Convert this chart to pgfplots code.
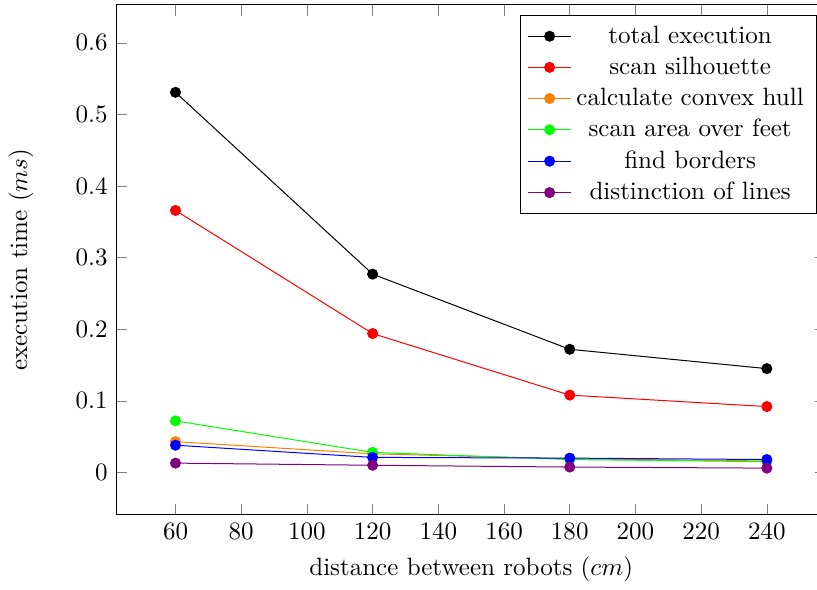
\documentclass[border=0pt]{standalone}
\usepackage{pgfplots}
\pgfplotsset{compat=1.18}
\begin{document}
\begin{tikzpicture}
\begin{axis}[
  width=283.6pt, height=203.6pt, scale only axis,
  xmin=42, xmax=258, ymin=-0.0587, ymax=0.653,
  xtick={60,80,...,240},
  ytick={0,0.1,...,0.6},
  yticklabel style={/pgf/number format/fixed},
  xlabel={distance between robots ($cm$)},
  ylabel={execution time ($ms$)},
  ylabel style={yshift=10pt},
  legend style={at={(0.987,0.98)}, anchor=north east},
  legend cell align=center,
  every axis plot/.append style={mark=*, mark size=2pt},
]
\addplot[black, mark options={fill=black}] coordinates {(60,0.531) (120,0.277) (180,0.172) (240,0.145)};
\addlegendentry{total execution}
\addplot[red, mark options={fill=red}] coordinates {(60,0.366) (120,0.194) (180,0.108) (240,0.092)};
\addlegendentry{scan silhouette}
\addplot[orange, mark options={fill=orange}] coordinates {(60,0.043) (120,0.026) (180,0.019) (240,0.016)};
\addlegendentry{calculate convex hull}
\addplot[green, mark options={fill=green}] coordinates {(60,0.072) (120,0.028) (180,0.018) (240,0.015)};
\addlegendentry{scan area over feet}
\addplot[blue, mark options={fill=blue}] coordinates {(60,0.038) (120,0.021) (180,0.020) (240,0.018)};
\addlegendentry{find borders}
\addplot[violet, mark options={fill=violet}] coordinates {(60,0.013) (120,0.010) (180,0.0075) (240,0.006)};
\addlegendentry{distinction of lines}
\end{axis}
\coordinate (bbsw) at (current bounding box.south west);
\pgfresetboundingbox
\useasboundingbox (bbsw) rectangle ([xshift=-3.6pt,yshift=2pt]current axis.north east);
\end{tikzpicture}
\end{document}
